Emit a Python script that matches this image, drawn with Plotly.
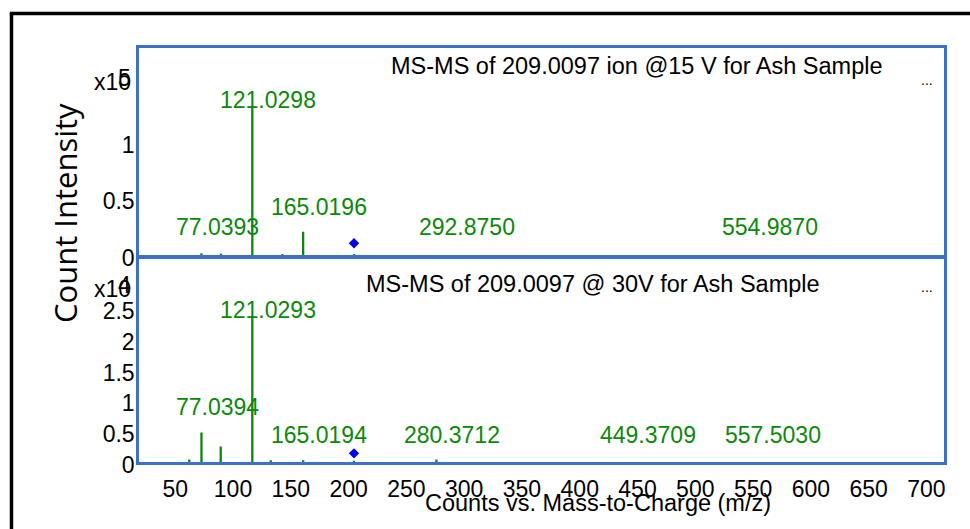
import plotly.graph_objects as go

# ---- data ----
top_mz = [77.0393, 94.0, 121.0298, 147.0, 165.0196, 209.0097, 292.8750, 554.9870]
top_int = [1500, 1200, 130000, 800, 20500, 800, 30, 30]
top_labels = ["77.0393", "121.0298", "165.0196", "292.8750", "554.9870"]
top_label_mz = [77.0393, 121.0298, 165.0196, 292.8750, 554.9870]
top_label_y = [24700, 136700, 42300, 24700, 24700]
top_precursor = [209.0097]
top_precursor_int = [10300]

bot_mz = [66.5, 77.0394, 93.7, 121.0293, 137.0, 165.0194, 209.0097, 280.3712, 449.3709, 557.5030]
bot_int = [400, 4800, 2500, 23500, 300, 300, 200, 400, 15, 15]
bot_labels = ["77.0394", "121.0293", "165.0194", "280.3712", "449.3709", "557.5030"]
bot_label_mz = [77.0394, 121.0293, 165.0194, 280.3712, 449.3709, 557.5030]
bot_label_y = [8930, 24700, 4380, 4380, 4380, 4380]
bot_precursor = [209.0097]
bot_precursor_int = [1400]

x_ticks = [50, 100, 150, 200, 250, 300, 350, 400, 450, 500, 550, 600, 650, 700]
top_yticks = [0, 50000, 100000]
top_yticktext = ["0", "0.5", "1"]
bot_yticks = [0, 5000, 10000, 15000, 20000, 25000]
bot_yticktext = ["0", "0.5", "1", "1.5", "2", "2.5"]

title_top = "MS-MS of 209.0097 ion @15 V for Ash Sample"
title_bot = "MS-MS of 209.0097 @ 30V for Ash Sample"

GREEN = "#0c880c"
BLUE_BORDER = "#3d70cc"
FONT = "Liberation Sans, Arial, sans-serif"


def sticks(mz, inten):
    xs, ys = [], []
    for m, h in zip(mz, inten):
        xs += [m, m, None]
        ys += [0, h, None]
    return xs, ys


fig = go.Figure()
tx, ty = sticks(top_mz, top_int)
fig.add_trace(go.Scatter(x=tx, y=ty, mode="lines", line=dict(color=GREEN, width=2.3),
                         xaxis="x", yaxis="y", hoverinfo="skip", showlegend=False))
fig.add_trace(go.Scatter(x=top_precursor, y=top_precursor_int, mode="markers",
                         marker=dict(symbol="diamond", color="blue", size=8),
                         xaxis="x", yaxis="y", showlegend=False))
bx, by = sticks(bot_mz, bot_int)
fig.add_trace(go.Scatter(x=bx, y=by, mode="lines", line=dict(color=GREEN, width=2.3),
                         xaxis="x2", yaxis="y2", hoverinfo="skip", showlegend=False))
fig.add_trace(go.Scatter(x=bot_precursor, y=bot_precursor_int, mode="markers",
                         marker=dict(symbol="diamond", color="blue", size=8),
                         xaxis="x2", yaxis="y2", showlegend=False))

xr = [23, 719.5]
common_x = dict(range=xr, showgrid=False, zeroline=False, showline=True, mirror=True,
                linecolor=BLUE_BORDER, linewidth=2.5, ticks="")
fig.update_layout(
    width=970, height=529,
    margin=dict(l=139, r=26, t=48, b=67),
    paper_bgcolor="white", plot_bgcolor="white",
    font=dict(family=FONT, size=23, color="black"),
    xaxis=dict(**common_x, anchor="y", showticklabels=False, matches="x2"),
    xaxis2=dict(**common_x, anchor="y2", tickvals=x_ticks, ticklabelstandoff=5,
                ticklabelshift=5, tickfont=dict(size=23)),
    yaxis=dict(domain=[0.5, 1.0], range=[0, 182500], showgrid=False, zeroline=False,
               showline=True, mirror=True, linecolor=BLUE_BORDER, linewidth=2.5,
               tickvals=top_yticks, ticktext=top_yticktext, ticks="", anchor="x",
               ticklabelshift=3, ticklabelstandoff=-3, tickfont=dict(size=23)),
    yaxis2=dict(domain=[0, 0.4915], range=[0, 33000], showgrid=False, zeroline=False,
                showline=True, mirror=True, linecolor=BLUE_BORDER, linewidth=2.5,
                tickvals=bot_yticks, ticktext=bot_yticktext, ticks="", anchor="x2",
                ticklabelshift=3, ticklabelstandoff=-3, tickfont=dict(size=23)),
)

ann = []
for lab, m, yv in zip(top_labels, top_label_mz, top_label_y):
    ann.append(dict(x=m, y=yv, xref="x", yref="y", text=lab, showarrow=False, xshift=16,
                    font=dict(color=GREEN, size=23), xanchor="center", yanchor="middle"))
for lab, m, yv in zip(bot_labels, bot_label_mz, bot_label_y):
    ann.append(dict(x=m, y=yv, xref="x2", yref="y2", text=lab, showarrow=False, xshift=16,
                    font=dict(color=GREEN, size=23), xanchor="center", yanchor="middle"))

ann += [
    dict(x=0.6186, y=0.913, xref="paper", yref="y domain", text=title_top, showarrow=False,
         font=dict(size=23.5), xanchor="center", yanchor="middle"),
    dict(x=0.564, y=0.875, xref="paper", yref="y2 domain", text=title_bot, showarrow=False,
         font=dict(size=23.5), xanchor="center", yanchor="middle"),
    dict(x=0.979, y=0.845, xref="paper", yref="y domain", text="...", showarrow=False,
         font=dict(size=14), xanchor="center", yanchor="middle"),
    dict(x=0.979, y=0.86, xref="paper", yref="y2 domain", text="...", showarrow=False,
         font=dict(size=14), xanchor="center", yanchor="middle"),
    dict(x=-0.0075, y=0.918, xref="paper", yref="paper", text="x10", showarrow=False,
         font=dict(size=23), xanchor="right", yanchor="middle"),
    dict(x=-0.0075, y=0.928, xref="paper", yref="paper", text="5", showarrow=False,
         font=dict(size=23), xanchor="right", yanchor="middle"),
    dict(x=-0.0075, y=0.418, xref="paper", yref="paper", text="x10", showarrow=False,
         font=dict(size=23), xanchor="right", yanchor="middle"),
    dict(x=-0.0075, y=0.4275, xref="paper", yref="paper", text="4", showarrow=False,
         font=dict(size=23), xanchor="right", yanchor="middle"),
    dict(x=-0.0919, y=0.6014, xref="paper", yref="paper", text="Count Intensity",
         showarrow=False, textangle=-90, font=dict(family="Open Sans", size=31),
         xanchor="center", yanchor="middle"),
    dict(x=0.570, y=-0.099, xref="paper", yref="paper", text="Counts vs. Mass-to-Charge (m/z)",
         showarrow=False, font=dict(size=23.5), xanchor="center", yanchor="middle"),
]
fig.update_layout(annotations=ann)

fig.update_layout(shapes=[
    dict(type="line", xref="paper", yref="paper", x0=-0.1584, x1=-0.1584, y0=1.0845, y1=-0.17,
         line=dict(color="black", width=3.5)),
    dict(type="line", xref="paper", yref="paper", x0=-0.1605, x1=1.04, y0=1.0833, y1=1.0833,
         line=dict(color="black", width=3.5)),
])

fig.write_html("out.html")
